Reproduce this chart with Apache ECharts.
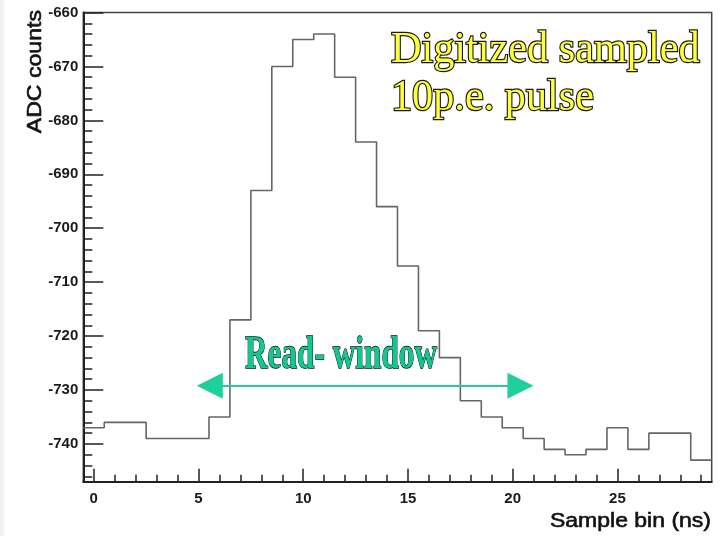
<!DOCTYPE html>
<html>
<head>
<meta charset="utf-8">
<script src="https://cdn.jsdelivr.net/npm/echarts@6/dist/echarts.min.js"></script>
<style>
html,body{margin:0;padding:0;background:#fff;}
#chart{width:723px;height:536px;}
</style>
</head>
<body>
<div id="chart"></div>
<script>
// ---- data ----
var binCenters = [0,1,2,3,4,5,6,7,8,9,10,11,12,13,14,15,16,17,18,19,20,21,22,23,24,25,26,27,28,29];
var adcCounts = [-737,-736,-736,-739,-739,-739,-735,-717,-693,-670,-665,-664,-672,-684,-696,-707,-719,-724,-732,-735,-737,-739,-741,-742,-741,-737,-741,-738,-738,-743];
var xTickLabels = [0,5,10,15,20,25];
var xMinorTicks = [0,1,2,3,4,5,6,7,8,9,10,11,12,13,14,15,16,17,18,19,20,21,22,23,24,25,26,27,28,29];
var yTickLabels = [-740,-730,-720,-710,-700,-690,-680,-670,-660];
var yMinorTicks = [-746,-744,-742,-740,-738,-736,-734,-732,-730,-728,-726,-724,-722,-720,-718,-716,-714,-712,-710,-708,-706,-704,-702,-700,-698,-696,-694,-692,-690,-688,-686,-684,-682,-680,-678,-676,-674,-672,-670,-668,-666,-664,-662,-660];
var readWindowX = [5.54, 20.37];
var readWindowY = -729.2;
var xRange = [-0.5, 29.5];
var yRange = [-747, -660];

// build histogram steps from bin centers
var stepData = [];
for (var i = 0; i < binCenters.length; i++) {
  stepData.push([binCenters[i] - 0.5, adcCounts[i]]);
  stepData.push([binCenters[i] + 0.5, adcCounts[i]]);
}

var chart = echarts.init(document.getElementById('chart'), null, {renderer: 'canvas'});
var labelFont = {fontFamily: 'Liberation Sans', fontWeight: 'bold', fontSize: 15, color: '#1a1a1a'};

chart.setOption({
  animation: false,
  backgroundColor: '#fff',
  grid: {left: 83.3, right: 11.3, top: 12.5, bottom: 54.3, show: true, borderColor: '#444', borderWidth: 1.5, backgroundColor: 'transparent'},
  xAxis: [
    {
      type: 'value', min: xRange[0], max: xRange[1], position: 'bottom',
      axisLine: {show: true, onZero: false, lineStyle: {color: '#222', width: 2}},
      axisTick: {show: true, inside: true, length: 13, customValues: xTickLabels, lineStyle: {color: '#222', width: 1.5}},
      axisLabel: Object.assign({show: true, margin: 10, customValues: xTickLabels}, labelFont),
      splitLine: {show: false}
    },
    {
      type: 'value', min: xRange[0], max: xRange[1], position: 'bottom',
      axisLine: {show: false, onZero: false},
      axisTick: {show: true, inside: true, length: 7, customValues: xMinorTicks, lineStyle: {color: '#222', width: 1.5}},
      axisLabel: {show: false},
      splitLine: {show: false}
    }
  ],
  yAxis: [
    {
      type: 'value', min: yRange[0], max: yRange[1], position: 'left',
      axisLine: {show: true, onZero: false, lineStyle: {color: '#222', width: 2}},
      axisTick: {show: true, inside: true, length: 20, customValues: yTickLabels, lineStyle: {color: '#222', width: 1.5}},
      axisLabel: Object.assign({show: true, margin: 5, customValues: yTickLabels}, labelFont),
      splitLine: {show: false}
    },
    {
      type: 'value', min: yRange[0], max: yRange[1], position: 'left',
      axisLine: {show: false, onZero: false},
      axisTick: {show: true, inside: true, length: 9, customValues: yMinorTicks, lineStyle: {color: '#222', width: 1.5}},
      axisLabel: {show: false},
      splitLine: {show: false}
    }
  ],
  series: [
    {
      type: 'line', xAxisIndex: 0, yAxisIndex: 0,
      data: stepData, showSymbol: false, symbol: 'none',
      lineStyle: {color: '#666', width: 1.6},
      silent: true,
      markLine: {
        silent: true,
        symbol: ['triangle', 'triangle'],
        symbolSize: [26, 26],
        label: {show: false},
        lineStyle: {color: '#1fcf9c', width: 2, type: 'solid'},
        itemStyle: {color: '#1fcf9c'},
        data: [[{coord: [readWindowX[0], readWindowY]}, {coord: [readWindowX[1], readWindowY]}]]
      }
    }
  ],
  graphic: [
    {type: 'rect', left: 0, top: 0, shape: {width: 4, height: 536}, style: {fill: '#f2f2f2'}, silent: true},
    {
      type: 'text', x: 35, y: 10, rotation: Math.PI / 2, scaleX: 1.1,
      style: {text: 'ADC counts', font: '21px "Liberation Sans"', fill: '#111', stroke: '#111', lineWidth: 0.6, align: 'right', verticalAlign: 'middle'}
    },
    {
      type: 'text', x: 711, y: 521, scaleX: 1.15,
      style: {text: 'Sample bin (ns)', font: '20px "Liberation Sans"', fill: '#111', stroke: '#111', lineWidth: 0.6, align: 'right', verticalAlign: 'middle'}
    },
    {
      type: 'text', x: 391, y: 50, scaleX: 0.96,
      style: {text: 'Digitized sampled', font: '44px "Liberation Serif"', fill: '#ffff40', stroke: '#1a1a1a', lineWidth: 2.4, strokeFirst: true, align: 'left', verticalAlign: 'middle'}
    },
    {
      type: 'text', x: 391, y: 98.5, scaleX: 0.96,
      style: {text: '10p.e. pulse', font: '44px "Liberation Serif"', fill: '#ffff40', stroke: '#1a1a1a', lineWidth: 2.4, strokeFirst: true, align: 'left', verticalAlign: 'middle'}
    },
    {
      type: 'text', x: 245, y: 356.5, scaleX: 0.68,
      style: {text: 'Read- window', font: 'bold 46px "Liberation Serif"', fill: '#10c890', stroke: '#0a0a0a', lineWidth: 1.3, align: 'left', verticalAlign: 'middle'}
    }
  ]
});
</script>
</body>
</html>
